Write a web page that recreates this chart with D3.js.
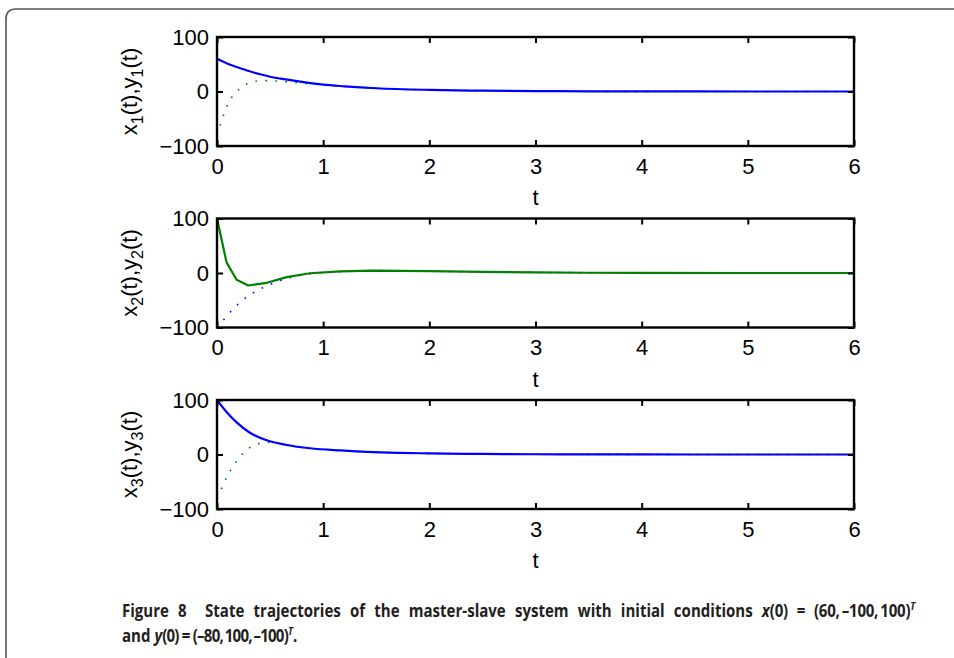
<!DOCTYPE html>
<html>
<head>
<meta charset="utf-8">
<script src="https://cdn.jsdelivr.net/npm/d3@7"></script>
<style>
  html, body { margin: 0; padding: 0; background: #fff; }
  svg { display: block; }
</style>
</head>
<body>
<svg id="fig" width="954" height="658"></svg>
<script>
// Time samples and state values for the master (solid) and slave (dotted) trajectories
const x1T = [0, 0.1, 0.2, 0.3, 0.4, 0.5, 0.6, 0.8, 1.0, 1.2, 1.5, 2.0, 2.5, 3.0, 3.5, 4.0, 5.0, 6.0];
const x1V = [60, 51, 44, 37.5, 32, 27, 23.5, 17.5, 12.5, 9.5, 6, 3, 1.5, 0.8, 0.4, 0.2, 0, 0];
const y1T = [0, 0.035, 0.066, 0.106, 0.163, 0.233, 0.327, 0.424, 0.524, 0.62, 0.75, 0.9, 1.0, 1.2, 1.5, 2.0, 2.5, 3.0, 3.5, 4.0, 5.0, 6.0];
const y1V = [-80, -59, -41, -21, -5, 8, 17, 20, 19.5, 18.5, 16, 13.5, 12.5, 9.5, 6, 3, 1.5, 0.8, 0.4, 0.2, 0, 0];

const x2T = [0, 0.09, 0.185, 0.295, 0.47, 0.656, 0.876, 1.16, 1.47, 2.0, 2.5, 3.0, 3.5, 4.0, 5.0, 6.0];
const x2V = [100, 19.5, -12.5, -23, -18, -7.5, -0.5, 3, 4.5, 3.5, 2, 1, 0.5, 0.2, 0, 0];
const y2T = [0, 0.066, 0.138, 0.21, 0.289, 0.38, 0.468, 0.562, 0.662, 0.76, 0.876, 1.16, 1.47, 2.0, 2.5, 3.0, 3.5, 4.0, 5.0, 6.0];
const y2V = [-100, -85, -69, -55, -43, -32, -24, -16, -10, -5.5, -1.5, 2.5, 4.5, 3.5, 2, 1, 0.5, 0.2, 0, 0];

const x3T = [0, 0.09, 0.185, 0.31, 0.468, 0.656, 0.876, 1.16, 1.47, 1.72, 2.0, 2.5, 3.0, 3.5, 4.0, 5.0, 6.0];
const x3V = [100, 78, 59, 40, 26, 17.5, 11.5, 7.5, 4.5, 3, 2, 1, 0.5, 0.3, 0.1, 0, 0];
const y3T = [0, 0.044, 0.09, 0.148, 0.21, 0.289, 0.389, 0.492, 0.593, 0.694, 0.876, 1.16, 1.47, 1.72, 2.0, 2.5, 3.0, 3.5, 4.0, 5.0, 6.0];
const y3V = [-80, -62, -42, -23, -6, 10, 20, 22, 20, 16.5, 11.5, 7.5, 4.5, 3, 2, 1, 0.5, 0.3, 0.1, 0, 0];

const xTicks = [0, 1, 2, 3, 4, 5, 6];
const yTicks = [-100, 0, 100];
const xDomain = [0, 6];
const yDomain = [-100, 100];
const xLabel = "t";

const panels = [
  { idx: "1", solid: { t: x1T, v: x1V, color: "#0000ff", smooth: true }, dotted: { t: y1T, v: y1V, color: "#008000" } },
  { idx: "2", solid: { t: x2T, v: x2V, color: "#008000", smooth: false }, dotted: { t: y2T, v: y2V, color: "#0000ff" } },
  { idx: "3", solid: { t: x3T, v: x3V, color: "#0000ff", smooth: true }, dotted: { t: y3T, v: y3V, color: "#008000" } }
];

// Caption pieces; "math" pieces are set a little tighter
const captionLine1 = [
  { text: "Figure 8", style: "normal" },
  { text: "\u00a0 State trajectories of the master-slave system with initial conditions ", style: "normal" },
  { text: "x", style: "italic" },
  { text: "(0) = (60,\u2009\u2013100,\u2009100)", style: "normal", math: true },
  { text: "T", style: "italic", sup: true }
];
const captionLine2 = [
  { text: "and ", style: "normal" },
  { text: "y", style: "italic" },
  { text: "(0) = (\u201380,\u2009100,\u2009\u2013100)", style: "normal", math: true },
  { text: "T", style: "italic", sup: true },
  { text: ".", style: "normal", afterSup: true }
];

const svg = d3.select("#fig");
const W = 954, H = 658;

// Outer figure frame with rounded top-left corner
svg.append("path")
  .attr("d", `M6,${H} L6,19 Q6,9 16,9 L${W},9`)
  .attr("fill", "none")
  .attr("stroke", "#555")
  .attr("stroke-width", 1.6);

const axLeft = 217, axRight = 854, axH = 109;
const tops = [37, 218.5, 400];
const fontAx = "'Liberation Sans', Arial, Helvetica, sans-serif";
const axFontSize = 22;

const x = d3.scaleLinear().domain(xDomain).range([axLeft, axRight]);

panels.forEach((p, i) => {
  const top = tops[i];
  const y = d3.scaleLinear().domain(yDomain).range([top + axH, top]);
  const g = svg.append("g");

  const smoothLine = d3.line().x(d => x(d[0])).y(d => y(d[1])).curve(d3.curveMonotoneX);
  const straightLine = d3.line().x(d => x(d[0])).y(d => y(d[1]));

  const solidPts = p.solid.t.map((t, k) => [t, p.solid.v[k]]);
  const dottedPts = p.dotted.t.map((t, k) => [t, p.dotted.v[k]]);

  const clipId = "clip" + i;
  svg.append("clipPath").attr("id", clipId)
    .append("rect").attr("x", axLeft).attr("y", top).attr("width", axRight - axLeft).attr("height", axH);

  const plot = g.append("g").attr("clip-path", `url(#${clipId})`);
  plot.append("path")
    .attr("d", smoothLine(dottedPts))
    .attr("fill", "none")
    .attr("stroke", p.dotted.color)
    .attr("stroke-width", 1.6)
    .attr("stroke-dasharray", "1.6,8.4");
  plot.append("path")
    .attr("d", (p.solid.smooth ? smoothLine : straightLine)(solidPts))
    .attr("fill", "none")
    .attr("stroke", p.solid.color)
    .attr("stroke-width", 2.2)
    .attr("stroke-linejoin", "round");

  // Axes with inward ticks on all four sides
  const bottom = g.append("g").attr("transform", `translate(0,${top + axH})`)
    .call(d3.axisBottom(x).tickValues(xTicks).tickSizeInner(-6).tickSizeOuter(0).tickPadding(12).tickFormat(d3.format("d")));
  const topAx = g.append("g").attr("transform", `translate(0,${top})`)
    .call(d3.axisTop(x).tickValues(xTicks).tickSizeInner(-6).tickSizeOuter(0).tickFormat(""));
  const left = g.append("g").attr("transform", `translate(${axLeft},0)`)
    .call(d3.axisLeft(y).tickValues(yTicks).tickSizeInner(-6).tickSizeOuter(0).tickPadding(8)
      .tickFormat(d => d < 0 ? "\u2212" + Math.abs(d) : String(d)));
  const right = g.append("g").attr("transform", `translate(${axRight},0)`)
    .call(d3.axisRight(y).tickValues(yTicks).tickSizeInner(-6).tickSizeOuter(0).tickFormat(""));

  [bottom, topAx, left, right].forEach(a => {
    a.select(".domain").remove();
    a.selectAll(".tick line").attr("stroke", "#000").attr("stroke-width", 2);
    a.selectAll(".tick text").attr("font-family", fontAx).attr("font-size", axFontSize).attr("fill", "#000");
  });

  g.append("rect")
    .attr("x", axLeft).attr("y", top)
    .attr("width", axRight - axLeft).attr("height", axH)
    .attr("fill", "none").attr("stroke", "#000").attr("stroke-width", 2.4);

  // x-axis label
  g.append("text")
    .attr("x", (axLeft + axRight) / 2)
    .attr("y", top + axH + 59)
    .attr("text-anchor", "middle")
    .attr("font-family", fontAx).attr("font-size", axFontSize)
    .text(xLabel);

  // y-axis label: x_i(t),y_i(t), rotated
  const yl = g.append("text")
    .attr("transform", `translate(137,${top + axH / 2}) rotate(-90)`)
    .attr("text-anchor", "middle")
    .attr("font-family", fontAx).attr("font-size", axFontSize);
  yl.append("tspan").text("x");
  yl.append("tspan").attr("font-size", 16).attr("dy", 6).text(p.idx);
  yl.append("tspan").attr("dy", -6).text("(t),y");
  yl.append("tspan").attr("font-size", 16).attr("dy", 6).text(p.idx);
  yl.append("tspan").attr("dy", -6).text("(t)");
});

// Caption: bold sans, horizontally condensed; the first line is justified to the block width
const capFont = "'Open Sans', 'Noto Sans', sans-serif";
const capScale = 0.86;
function buildLine(parts, xPos, yPos, mathSpacing) {
  const grp = svg.append("g").attr("transform", `translate(${xPos},${yPos}) scale(${capScale},1)`);
  const t = grp.append("text")
    .attr("x", 0).attr("y", 0)
    .attr("font-family", capFont).attr("font-size", 17.5).attr("font-weight", 700)
    .attr("fill", "#231f20");
  parts.forEach(pt => {
    const s = t.append("tspan").attr("font-style", pt.style).text(pt.text);
    if (pt.math) s.attr("letter-spacing", mathSpacing);
    if (pt.sup) s.attr("font-size", 11).attr("dy", -7);
    if (pt.afterSup) s.attr("dy", 7);
  });
  return t;
}
const t1 = buildLine(captionLine1, 122, 617, -0.3);
buildLine(captionLine2, 122, 642, -0.9);

const w1 = t1.node().getComputedTextLength();
const spaces1 = (captionLine1.map(d => d.text).join("").match(/ /g) || []).length;
t1.attr("word-spacing", Math.max(0, (788 / capScale - w1) / spaces1));
</script>
</body>
</html>
